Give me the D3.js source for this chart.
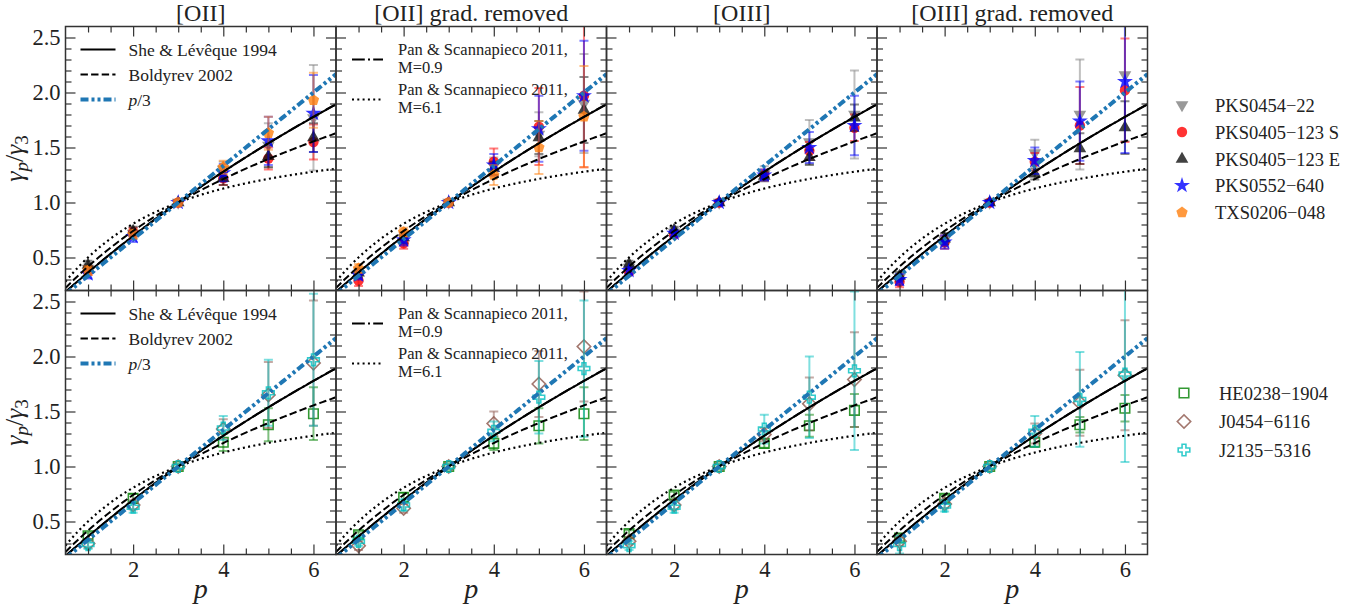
<!DOCTYPE html>
<html lang="en">
<head>
<meta charset="UTF-8" />
<title>gamma_p / gamma_3</title>
<style>
  body { margin: 0; background: #fff; }
  svg text { font-family: "Liberation Serif", "DejaVu Serif", serif; fill: #222; }
  .axis path.domain { display: none; }
  .axis line { stroke: #333; stroke-width: 1.2; }
  .axis text { font-family: "Liberation Serif", serif; font-size: 22.5px; fill: #222; }
</style>
</head>
<body>
<div id="app"></div>
<script src="https://cdn.jsdelivr.net/npm/d3@7/dist/d3.min.js"></script>
<script>
// orders of the structure function
const pValues = [1, 2, 3, 4, 5, 6];
const panelTitles = ["[OII]", "[OII] grad. removed", "[OIII]", "[OIII] grad. removed"];
const xMajorTicks = [2, 4, 6];
const xMinorTicks = [1, 1.5, 2.5, 3, 3.5, 4.5, 5, 5.5];
const yMajorTicks = [0.5, 1.0, 1.5, 2.0, 2.5];

// top row sources: one row per panel (null = not measured)
const pks0454Val = [[0.40, 0.72, 1.0, 1.30, 1.52, 1.77], [0.35, 0.68, 1.0, 1.33, 1.62, 1.90], [0.41, 0.73, 1.0, 1.26, 1.55, 1.80], [0.32, 0.66, 1.0, 1.45, 1.80, 2.16]];
const pks0454Err = [[0.04, 0.05, 0.02, 0.07, 0.20, 0.48], [0.04, 0.05, 0.02, 0.08, 0.20, 0.45], [0.04, 0.04, 0.02, 0.07, 0.20, 0.40], [0.04, 0.06, 0.02, 0.12, 0.50, 0.60]];
const pks0405sVal = [[0.38, 0.73, 1.0, 1.22, 1.40, 1.55], [0.29, 0.63, 1.0, 1.37, 1.69, 1.97], [0.37, 0.71, 1.0, 1.25, 1.47, 1.68], [0.28, 0.64, 1.0, 1.37, 1.70, 2.02]];
const pks0405sErr = [[0.04, 0.04, 0.02, 0.06, 0.10, 0.16], [0.05, 0.05, 0.02, 0.12, 0.35, 0.65], [0.03, 0.03, 0.02, 0.05, 0.08, 0.12], [0.05, 0.06, 0.02, 0.08, 0.35, 0.47]];
const pks0405eVal = [[0.43, 0.74, 1.0, 1.22, 1.42, 1.59], [0.36, 0.68, 1.0, 1.31, 1.59, 1.84], [0.44, 0.75, 1.0, 1.24, 1.41, 1.77], [0.33, 0.67, 1.0, 1.26, 1.49, 1.68]];
const pks0405eErr = [[0.04, 0.04, 0.02, 0.06, 0.10, 0.13], [0.04, 0.05, 0.02, 0.06, 0.15, 0.30], [0.03, 0.03, 0.02, 0.04, 0.07, 0.12], [0.04, 0.05, 0.02, 0.05, 0.14, 0.24]];
const pks0552Val = [[0.35, 0.69, 1.0, 1.27, 1.56, 1.81], [0.34, 0.66, 1.0, 1.34, 1.67, 1.97], [0.38, 0.72, 1.0, 1.25, 1.50, 1.70], [0.30, 0.64, 1.0, 1.38, 1.74, 2.10]];
const pks0552Err = [[0.04, 0.05, 0.02, 0.08, 0.22, 0.35], [0.04, 0.05, 0.02, 0.10, 0.30, 0.50], [0.03, 0.03, 0.02, 0.05, 0.14, 0.27], [0.05, 0.06, 0.02, 0.12, 0.36, 0.65]];
const txs0206Val = [[0.38, 0.71, 1.0, 1.32, 1.63, 1.93], [0.40, 0.73, 1.0, 1.25, 1.50, 1.78], null, null];
const txs0206Err = [[0.04, 0.04, 0.02, 0.06, 0.15, 0.25], [0.04, 0.04, 0.02, 0.09, 0.24, 0.46], null, null];

// bottom row sources
const he0238Val = [[0.37, 0.71, 1.0, 1.22, 1.38, 1.48], [0.38, 0.72, 1.0, 1.21, 1.37, 1.48], [0.39, 0.74, 1.0, 1.21, 1.37, 1.51], [0.35, 0.71, 1.0, 1.22, 1.38, 1.53]];
const he0238Err = [[0.03, 0.04, 0.02, 0.08, 0.15, 0.24], [0.03, 0.04, 0.02, 0.06, 0.16, 0.24], [0.03, 0.03, 0.02, 0.04, 0.10, 0.15], [0.03, 0.03, 0.02, 0.04, 0.07, 0.12]];
const j0454Val = [[0.30, 0.65, 1.0, 1.34, 1.65, 1.94], [0.28, 0.62, 1.0, 1.39, 1.75, 2.09], [0.32, 0.65, 1.0, 1.29, 1.57, 1.79], [0.32, 0.66, 1.0, 1.30, 1.58, 1.83]];
const j0454Err = [[0.04, 0.04, 0.02, 0.09, 0.30, 0.57], [0.04, 0.04, 0.02, 0.11, 0.30, 0.50], [0.03, 0.04, 0.02, 0.06, 0.24, 0.43], [0.04, 0.04, 0.02, 0.09, 0.30, 0.50]];
const j2135Val = [[0.29, 0.63, 1.0, 1.35, 1.67, 1.97], [0.32, 0.65, 1.0, 1.32, 1.63, 1.89], [0.28, 0.63, 1.0, 1.34, 1.63, 1.87], [0.29, 0.64, 1.0, 1.32, 1.61, 1.84]];
const j2135Err = [[0.04, 0.05, 0.02, 0.11, 0.30, 0.60], [0.04, 0.05, 0.02, 0.09, 0.33, 0.62], [0.04, 0.05, 0.02, 0.13, 0.37, 0.72], [0.08, 0.05, 0.02, 0.14, 0.43, 0.80]];

// generalised She-Leveque model parameters [gamma, beta]
const sheLeveque = [1 / 3, 2 / 3];
const panM09 = [0.35, 0.66];
const panM61 = [0.10, 0.20];

// ---- layout
const width = 1367, height = 612;
const left = 65.5, panelW = 270.5, rowTop = [26.5, 290.5], panelH = 264;

const svg = d3.select("#app").append("svg")
  .attr("width", width).attr("height", height);

// pentagon marker
const symbolPentagon = {
  draw(ctx, size) {
    const r = Math.sqrt(size / (2.5 * Math.sin(2 * Math.PI / 5)));
    for (let i = 0; i < 5; i++) {
      const a = -Math.PI / 2 + i * 2 * Math.PI / 5;
      if (i === 0) ctx.moveTo(r * Math.cos(a), r * Math.sin(a));
      else ctx.lineTo(r * Math.cos(a), r * Math.sin(a));
    }
    ctx.closePath();
  }
};

const topSources = [
  { name: "PKS0454\u221222", val: pks0454Val, err: pks0454Err, color: "#808080", sym: d3.symbolTriangle, size: 70, rot: 180, open: false },
  { name: "PKS0405\u2212123 S", val: pks0405sVal, err: pks0405sErr, color: "#ff0000", sym: d3.symbolCircle, size: 85, rot: 0, open: false },
  { name: "PKS0405\u2212123 E", val: pks0405eVal, err: pks0405eErr, color: "#111111", sym: d3.symbolTriangle, size: 70, rot: 0, open: false },
  { name: "PKS0552\u2212640", val: pks0552Val, err: pks0552Err, color: "#0000ff", sym: d3.symbolStar, size: 80, rot: 0, open: false },
  { name: "TXS0206\u2212048", val: txs0206Val, err: txs0206Err, color: "#ff7f0e", sym: symbolPentagon, size: 85, rot: 0, open: false }
];
const bottomSources = [
  { name: "HE0238\u22121904", val: he0238Val, err: he0238Err, color: "#008000", sym: d3.symbolSquare, size: 90, rot: 0, open: true },
  { name: "J0454\u22126116", val: j0454Val, err: j0454Err, color: "#8c564b", sym: d3.symbolSquare, size: 90, rot: 45, open: true },
  { name: "J2135\u22125316", val: j2135Val, err: j2135Err, color: "#00bfbf", sym: d3.symbolCross, size: 75, rot: 0, open: true }
];

function model(par, p) {
  const g = par[0], b = par[1];
  const C = (1 - g) / (1 - b);
  return g * p / 3 + C * (1 - Math.pow(b, p / 3));
}
function boldyrev(p) { return p / 9 + 1 - Math.pow(1 / 3, p / 3); }

const curves = [
  { f: p => model(sheLeveque, p), color: "#000", w: 2, dash: null, label: "She & L\u00e9v\u00eaque 1994" },
  { f: boldyrev, color: "#000", w: 2, dash: "7.4,3.2", label: "Boldyrev 2002" },
  { f: p => model(panM09, p), color: "#000", w: 2, dash: "12.8,3.2,2,3.2", label: "Pan & Scannapieco 2011,|M=0.9" },
  { f: p => model(panM61, p), color: "#000", w: 2.2, dash: "2,3.3", label: "Pan & Scannapieco 2011,|M=6.1" },
  { f: p => p / 3, color: "#1f77b4", w: 4, dash: "8,3,3,3,3,3", label: "p/3" }
];

const pGrid = d3.range(0.5, 6.5001, 0.05);
const yMinorTicks = d3.range(3, 26).map(d => d / 10).filter(d => Math.abs(d * 2 - Math.round(d * 2)) > 1e-6);

[0, 1].forEach(row => {
  const sources = row === 0 ? topSources : bottomSources;
  for (let col = 0; col < 4; col++) {
    const x0 = left + col * panelW, y0 = rowTop[row];
    const x = d3.scaleLinear().domain([0.5, 6.5]).range([x0, x0 + panelW]);
    const y = d3.scaleLinear().domain([0.2, 2.6]).range([y0 + panelH, y0]);
    const id = "clip" + row + col;
    svg.append("clipPath").attr("id", id).append("rect")
      .attr("x", x0).attr("y", y0).attr("width", panelW).attr("height", panelH);
    const g = svg.append("g");
    const plot = g.append("g").attr("clip-path", `url(#${id})`);

    // data with error bars
    sources.forEach(s => {
      const v = s.val[col], e = s.err[col];
      if (!v) return;
      const pts = pValues.map((p, i) => ({ p: p, v: v[i], e: e[i] }));
      const eb = plot.append("g").attr("stroke", s.color).attr("stroke-opacity", 0.5).attr("stroke-width", 2);
      eb.selectAll("line.v").data(pts).enter().append("line")
        .attr("x1", d => x(d.p)).attr("x2", d => x(d.p))
        .attr("y1", d => y(d.v - d.e)).attr("y2", d => y(d.v + d.e));
      eb.selectAll("line.c1").data(pts).enter().append("line")
        .attr("x1", d => x(d.p) - 4.5).attr("x2", d => x(d.p) + 4.5)
        .attr("y1", d => y(d.v + d.e)).attr("y2", d => y(d.v + d.e));
      eb.selectAll("line.c2").data(pts).enter().append("line")
        .attr("x1", d => x(d.p) - 4.5).attr("x2", d => x(d.p) + 4.5)
        .attr("y1", d => y(d.v - d.e)).attr("y2", d => y(d.v - d.e));
      plot.append("g").selectAll("path").data(pts).enter().append("path")
        .attr("d", d3.symbol().type(s.sym).size(s.size))
        .attr("transform", d => `translate(${x(d.p)},${y(d.v)}) rotate(${s.rot})`)
        .attr("fill", s.open ? "none" : s.color)
        .attr("fill-opacity", 0.8)
        .attr("stroke", s.open ? s.color : "none")
        .attr("stroke-opacity", 0.8)
        .attr("stroke-width", 1.6);
    });

    // model curves
    curves.forEach(c => {
      plot.append("path")
        .attr("d", d3.line().x(p => x(p)).y(p => y(c.f(p)))(pGrid))
        .attr("fill", "none").attr("stroke", c.color).attr("stroke-width", c.w)
        .attr("stroke-dasharray", c.dash);
    });

    // axes, ticks pointing inward on all sides
    const showY = col === 0, showX = row === 1;
    g.append("g").attr("class", "axis").attr("transform", `translate(${x0},0)`)
      .call(d3.axisLeft(y).tickValues(yMajorTicks).tickSize(-10).tickPadding(5)
        .tickFormat(showY ? d3.format(".1f") : ""));
    g.append("g").attr("class", "axis").attr("transform", `translate(${x0},0)`)
      .call(d3.axisLeft(y).tickValues(yMinorTicks).tickSize(-6).tickFormat(""));
    g.append("g").attr("class", "axis").attr("transform", `translate(${x0 + panelW},0)`)
      .call(d3.axisRight(y).tickValues(yMajorTicks).tickSize(-10).tickFormat(""));
    g.append("g").attr("class", "axis").attr("transform", `translate(${x0 + panelW},0)`)
      .call(d3.axisRight(y).tickValues(yMinorTicks).tickSize(-6).tickFormat(""));
    g.append("g").attr("class", "axis").attr("transform", `translate(0,${y0 + panelH})`)
      .call(d3.axisBottom(x).tickValues(xMajorTicks).tickSize(-10).tickPadding(7)
        .tickFormat(showX ? d3.format("d") : ""));
    g.append("g").attr("class", "axis").attr("transform", `translate(0,${y0 + panelH})`)
      .call(d3.axisBottom(x).tickValues(xMinorTicks).tickSize(-6).tickFormat(""));
    g.append("g").attr("class", "axis").attr("transform", `translate(0,${y0})`)
      .call(d3.axisTop(x).tickValues(xMajorTicks).tickSize(-10).tickFormat(""));
    g.append("g").attr("class", "axis").attr("transform", `translate(0,${y0})`)
      .call(d3.axisTop(x).tickValues(xMinorTicks).tickSize(-6).tickFormat(""));

    g.append("rect").attr("x", x0).attr("y", y0).attr("width", panelW).attr("height", panelH)
      .attr("fill", "none").attr("stroke", "#333").attr("stroke-width", 1.5);

    if (row === 0) {
      g.append("text").attr("x", x0 + panelW / 2).attr("y", 21)
        .attr("text-anchor", "middle").attr("font-size", 24).text(panelTitles[col]);
    } else {
      g.append("text").attr("x", x0 + panelW / 2).attr("y", 598)
        .attr("text-anchor", "middle").attr("font-size", 28).attr("font-style", "italic").text("p");
    }

    // in-panel legends
    if (col === 0) {
      [curves[0], curves[1], curves[4]].forEach((c, i) => {
        const ly = y0 + 23 + i * 25;
        g.append("line").attr("x1", x0 + 15).attr("x2", x0 + 50).attr("y1", ly).attr("y2", ly)
          .attr("stroke", c.color).attr("stroke-width", c.w).attr("stroke-dasharray", c.dash);
        const t = g.append("text").attr("x", x0 + 63).attr("y", ly + 6).attr("font-size", 17.5);
        if (c.label === "p/3") {
          t.append("tspan").attr("font-style", "italic").text("p");
          t.append("tspan").text("/3");
        } else t.text(c.label);
      });
    }
    if (col === 1) {
      [curves[2], curves[3]].forEach((c, i) => {
        const ly = y0 + 33 + i * 40;
        g.append("line").attr("x1", x0 + 16).attr("x2", x0 + 47).attr("y1", ly).attr("y2", ly)
          .attr("stroke", c.color).attr("stroke-width", c.w).attr("stroke-dasharray", c.dash);
        const parts = c.label.split("|");
        const t = g.append("text").attr("x", x0 + 62).attr("y", ly - 5).attr("font-size", 16.5);
        t.append("tspan").attr("x", x0 + 62).text(parts[0]);
        t.append("tspan").attr("x", x0 + 62).attr("dy", 18.5).text(parts[1]);
      });
    }
  }

  // y label
  const yl = svg.append("text")
    .attr("transform", `translate(23,${rowTop[row] + panelH / 2}) rotate(-90)`)
    .attr("text-anchor", "middle").attr("font-size", 26);
  yl.append("tspan").attr("font-style", "italic").text("\u03b3");
  yl.append("tspan").attr("font-style", "italic").attr("font-size", 19).attr("dy", 5).text("p");
  yl.append("tspan").attr("dy", -5).text("/");
  yl.append("tspan").attr("font-style", "italic").text("\u03b3");
  yl.append("tspan").attr("font-size", 19).attr("dy", 5).text("3");

  // source legend on the right
  const legY = row === 0 ? [105, 132, 159, 185.5, 212.5] : [393, 421.5, 450];
  sources.forEach((s, i) => {
    const mx = row === 0 ? 1182 : 1184;
    svg.append("path")
      .attr("d", d3.symbol().type(s.sym).size(s.size)())
      .attr("transform", `translate(${mx},${legY[i]}) rotate(${s.rot})`)
      .attr("fill", s.open ? "none" : s.color).attr("fill-opacity", 0.8)
      .attr("stroke", s.open ? s.color : "none").attr("stroke-opacity", 0.8).attr("stroke-width", 1.6);
    svg.append("text").attr("x", row === 0 ? 1215 : 1219).attr("y", legY[i] + 6.5)
      .attr("font-size", 18.5).text(s.name);
  });
});
</script>
</body>
</html>
